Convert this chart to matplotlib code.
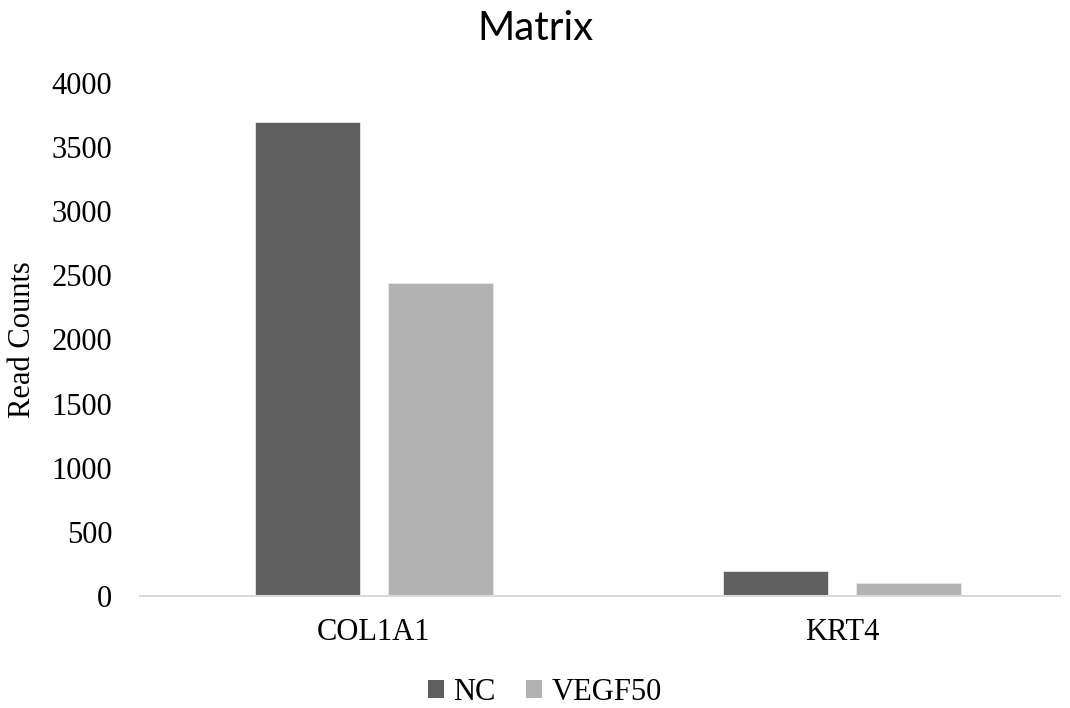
import matplotlib
matplotlib.use("Agg")
import matplotlib.pyplot as plt
import numpy as np
from matplotlib.patches import Patch

genes = ["COL1A1", "KRT4"]
series_names = ["NC", "VEGF50"]
nc_counts = [3694, 193]
vegf50_counts = [2438, 99]
yticks = [0, 500, 1000, 1500, 2000, 2500, 3000, 3500, 4000]
colors = ["#5f5f5f", "#b2b2b2"]

serif = "Liberation Serif"

fig = plt.figure(figsize=(10.70, 7.08), dpi=100)
ax = fig.add_axes([140 / 1070, 112 / 708, 920 / 1070, 513 / 708])

x = np.arange(len(genes))
width = 0.224
offset = 0.142
ax.bar(x - offset, nc_counts, width, color=colors[0], edgecolor="#e8e8e8", linewidth=0.6)
ax.bar(x + offset, vegf50_counts, width, color=colors[1], edgecolor="#e8e8e8", linewidth=0.6)

ax.set_xlim(-0.5, 1.466)
ax.set_ylim(0, 4000)
ax.set_yticks(yticks)
ax.set_yticklabels([str(v) for v in yticks], fontfamily=serif, fontsize=22)
ax.set_xticks(x)
ax.set_xticklabels(genes, fontfamily=serif, fontsize=22)
ax.tick_params(axis="both", length=0)
ax.tick_params(axis="y", pad=20)
ax.tick_params(axis="x", pad=16)

for side in ["top", "right", "left"]:
    ax.spines[side].set_visible(False)
ax.spines["bottom"].set_color("#d9d9d9")
ax.spines["bottom"].set_linewidth(1.5)

ax.set_ylabel("Read Counts", fontfamily=serif, fontsize=22, va="center")
ax.yaxis.set_label_coords(-0.128, 0.5)

fig.text(0.5, 1 - 28 / 708, "Matrix", ha="center", va="center", fontfamily="Lato", fontsize=29)

handles = [Patch(facecolor=c, edgecolor="none") for c in colors]
fig.legend(handles, series_names, loc="center", bbox_to_anchor=(545 / 1070, 1 - 692 / 708),
           ncol=2, frameon=False, prop={"family": serif, "size": 22},
           handlelength=0.52, handleheight=0.52, handletextpad=0.3, columnspacing=1.0)

fig.savefig("out.png", dpi=100)
